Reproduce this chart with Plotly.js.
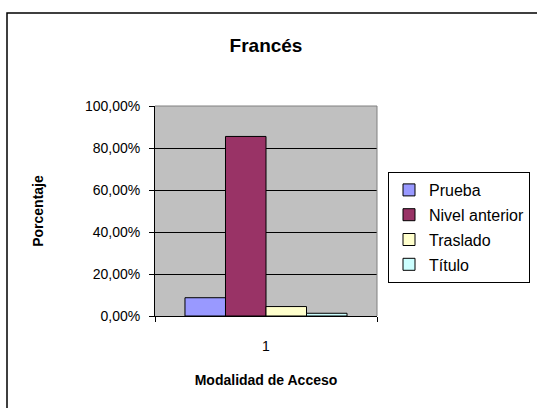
<!DOCTYPE html>
<html>
<head>
<meta charset="utf-8">
<script src="https://cdn.plot.ly/plotly-3.0.1.min.js"></script>
<style>html,body{margin:0;padding:0;background:#fff;}#chart{width:537px;height:408px;}</style>
</head>
<body>
<div id="chart"></div>
<script>
var categories = ['1'];
var seriesNames = ['Prueba', 'Nivel anterior', 'Traslado', 'Título'];
var prueba = [0.087];
var nivelAnterior = [0.855];
var traslado = [0.045];
var titulo = [0.013];
var yTickVals = [0, 0.2, 0.4, 0.6, 0.8, 1.0];

var seriesValues = [prueba, nivelAnterior, traslado, titulo];
var colors = ['#9999FF', '#993366', '#FFFFCC', '#CCFFFF'];
var FONT = 'Liberation Sans, Arial, sans-serif';

var traces = seriesNames.map(function (name, i) {
  return {
    type: 'bar',
    name: name,
    legendgroup: 'g' + i,
    x: categories,
    y: seriesValues[i],
    marker: {color: colors[i], line: {color: '#000', width: 1}},
    hoverinfo: 'none'
  };
});

var L = 155, R = 377, T = 106, B = 316, W = 537, H = 408;
var pw = R - L, ph = B - T;

var layout = {
  width: W, height: H,
  margin: {l: L, r: W - R, t: T, b: H - B, pad: 0, autoexpand: false},
  paper_bgcolor: '#fff',
  plot_bgcolor: '#C0C0C0',
  separators: ',.',
  font: {family: FONT, size: 14, color: '#000'},
  showlegend: true,
  barmode: 'group',
  bargap: 0.27,
  bargroupgap: 0,
  title: {
    text: '<b>Francés</b>',
    font: {family: FONT, size: 19, color: '#000'},
    xref: 'container', yref: 'container',
    x: 266 / W, y: 1 - 45 / H, xanchor: 'center', yanchor: 'middle'
  },
  xaxis: {
    type: 'category',
    tickson: 'boundaries',
    ticks: 'outside', ticklen: 5, tickcolor: '#000', tickwidth: 1,
    showline: true, linecolor: '#000', linewidth: 1,
    showgrid: false,
    tickfont: {family: FONT, size: 14},
    ticklabelstandoff: 17,
    title: {text: '<b>Modalidad de Acceso</b>', font: {family: FONT, size: 14}, standoff: 22}
  },
  yaxis: {
    range: [0, 1],
    tickvals: yTickVals,
    tickformat: '.2%',
    ticks: 'outside', ticklen: 5, tickcolor: '#000', tickwidth: 1,
    showline: true, linecolor: '#000', linewidth: 1,
    showgrid: true, gridcolor: '#000', gridwidth: 1,
    zeroline: false,
    tickfont: {family: FONT, size: 14},
    ticklabelstandoff: 6,
    title: {text: '<b>Porcentaje</b>', font: {family: FONT, size: 14}, standoff: 38}
  },
  legend: {
    x: (388 - L) / pw, y: (B - 172) / ph,
    xanchor: 'left', yanchor: 'top',
    bgcolor: '#fff', bordercolor: '#000', borderwidth: 1,
    font: {family: FONT, size: 16},
    tracegroupgap: 1,
    itemwidth: 30
  },
  shapes: [
    {type: 'line', xref: 'paper', yref: 'paper', x0: 0, x1: 1, y0: 1, y1: 1, line: {color: '#808080', width: 1}},
    {type: 'line', xref: 'paper', yref: 'paper', x0: 1, x1: 1, y0: 0, y1: 1, line: {color: '#808080', width: 1}},
    {type: 'rect', xref: 'paper', yref: 'paper',
     x0: (7 - L) / pw, x1: (545 - L) / pw, y0: (B - 420) / ph, y1: (B - 13) / ph,
     line: {color: '#000', width: 1.5}, layer: 'below'}
  ]
};

Plotly.newPlot('chart', traces, layout, {displayModeBar: false, staticPlot: true});
</script>
</body>
</html>
